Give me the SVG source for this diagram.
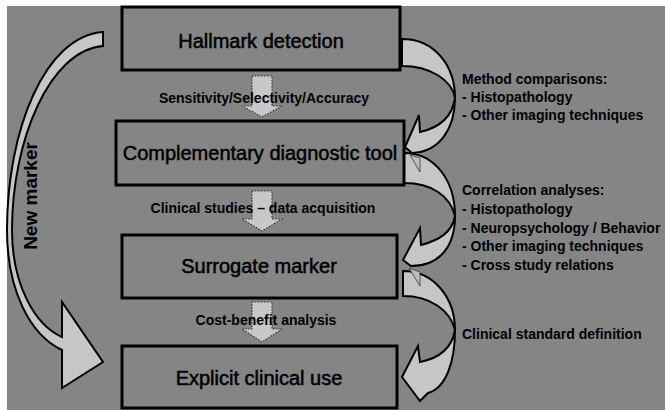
<svg xmlns="http://www.w3.org/2000/svg" width="665" height="410" viewBox="0 0 665 410">
<style>
.box{fill:none;stroke:#000;stroke-width:3}
.title{font-family:"Liberation Sans",Arial,sans-serif;font-size:20px;fill:#000;stroke:#000;stroke-width:0.5;text-anchor:middle}
.lbl{font-family:"Liberation Sans",Arial,sans-serif;font-size:14px;font-weight:bold;fill:#000}
.mid{text-anchor:middle}
.curve{fill:#c6c6c6;stroke:#000;stroke-width:2;stroke-linejoin:miter}
.down{fill:#c8c8c8;stroke:#333;stroke-width:1.2;stroke-dasharray:1.5 1.5}
.sliver{fill:#bdbdbd;stroke:#333;stroke-width:0.8}
</style>
<rect x="0" y="0" width="665" height="410" fill="#ffffff"/>
<rect x="7" y="6" width="658" height="404" fill="#858585"/>

<g id="connectors">
  <g id="down-arrows">
    <path class="down" d="M252,76 H272 V106 H282 L262,117 L242,106 H252 Z"/>
    <path class="down" d="M252,191 H272 V219 H282 L262,231 L242,219 H252 Z"/>
    <path class="down" d="M252,302 H272 V329 H282 L262,342 L242,329 H252 Z"/>
  </g>
  <g id="new-marker-arrow">
    <path class="curve" d="M103,32 C45,36 7,130 7,230 C7,290 30,335 62,350 L62,388 L103,362 L62,302 L62,337 C35,325 12,285 12,230 C12,140 50,50 103,46 Z"/>
  </g>
  <g id="side-arrows">
    <path class="curve" d="M402,39 C434,39 455,65 455,98 C455,128 440,152 412,153 L405,147 L419,115 L420,132 C438,128 452,118 455,98 C452,80 430,66 402,66 Z"/>
    <path class="curve" d="M404,153 C436,153 455,182 455,216 C455,246 440,266 411,266 L403,260 L420,228 L421,245 C440,240 452,232 455,216 C450,196 432,183 404,183 Z"/>
    <polygon class="sliver" points="410,155 420,172 420,158"/>
    <path class="curve" d="M403,271 C434,271 455,298 455,330 C455,362 446,388 428,393 L420,401 L402,377 L418,346 L420,362 C440,358 452,348 455,330 C450,310 430,296 403,296 Z"/>
    <polygon class="sliver" points="409,268 420,286 420,272"/>
  </g>
</g>

<g id="labels">
  <text class="lbl mid" x="264" y="103">Sensitivity/Selectivity/Accuracy</text>
  <text class="lbl mid" x="263" y="213">Clinical studies – data acquisition</text>
  <text class="lbl mid" x="266" y="325">Cost-benefit analysis</text>
  <text class="lbl" x="462" y="84">Method comparisons:</text>
  <text class="lbl" x="462" y="102">- Histopathology</text>
  <text class="lbl" x="462" y="120">- Other imaging techniques</text>
  <text class="lbl" x="462" y="195">Correlation analyses:</text>
  <text class="lbl" x="462" y="214">- Histopathology</text>
  <text class="lbl" x="462" y="233">- Neuropsychology / Behavior</text>
  <text class="lbl" x="462" y="251">- Other imaging techniques</text>
  <text class="lbl" x="462" y="270">- Cross study relations</text>
  <text class="lbl" x="462" y="339">Clinical standard definition</text>
  <text class="lbl mid" transform="translate(37,196) rotate(-90)" x="0" y="0" style="font-size:19px">New marker</text>
</g>

<g id="node-hallmark">
  <rect class="box" x="122" y="7" width="278" height="63"/>
  <text class="title" x="261" y="48">Hallmark detection</text>
</g>
<g id="node-complementary">
  <rect class="box" x="116" y="121" width="288" height="64"/>
  <text class="title" x="260" y="160">Complementary diagnostic tool</text>
</g>
<g id="node-surrogate">
  <rect class="box" x="122" y="235" width="275" height="63"/>
  <text class="title" x="259" y="273">Surrogate marker</text>
</g>
<g id="node-explicit">
  <rect class="box" x="122" y="346" width="275" height="62"/>
  <text class="title" x="259" y="385">Explicit clinical use</text>
</g>
</svg>
